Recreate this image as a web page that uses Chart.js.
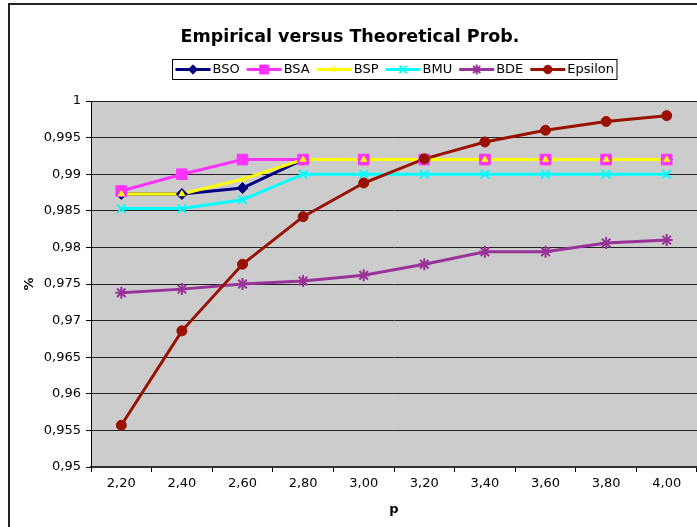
<!DOCTYPE html>
<html>
<head>
<meta charset="utf-8">
<title>Empirical versus Theoretical Prob.</title>
<script src="https://cdn.jsdelivr.net/npm/chart.js@4/dist/chart.umd.min.js"></script>
<style>
  html, body { margin: 0; padding: 0; background: #fff; }
  .chart-wrap { position: relative; width: 697px; height: 527px; }
</style>
</head>
<body>
<div class="chart-wrap"><canvas id="probChart"></canvas></div>
<script>
// -------- Data --------
const categories = ['2,20', '2,40', '2,60', '2,80', '3,00', '3,20', '3,40', '3,60', '3,80', '4,00'];
const bsoValues = [0.9873, 0.9873, 0.9881, 0.992, 0.992, 0.992, 0.992, 0.992, 0.992, 0.992];
const bsaValues = [0.9877, 0.990, 0.992, 0.992, 0.992, 0.992, 0.992, 0.992, 0.992, 0.992];
const bspValues = [0.9873, 0.9873, 0.9893, 0.992, 0.992, 0.992, 0.992, 0.992, 0.992, 0.992];
const bmuValues = [0.9853, 0.9853, 0.9865, 0.990, 0.990, 0.990, 0.990, 0.990, 0.990, 0.990];
const bdeValues = [0.9738, 0.9743, 0.975, 0.9754, 0.9762, 0.9777, 0.9794, 0.9794, 0.9806, 0.981];
const epsilonValues = [0.9557, 0.9686, 0.9777, 0.9842, 0.9888, 0.9921, 0.9944, 0.996, 0.9972, 0.998];
const yTicks = { min: 0.95, max: 1, step: 0.005 };

const chartTitle = 'Empirical versus Theoretical Prob.';
const fontFamily = '"DejaVu Sans", Verdana, sans-serif';

// series look: label, values, colour, marker
const seriesDefs = [
    { label: 'BSO', data: bsoValues, color: '#000080', marker: 'rectRot', radius: 5.5, border: 1 },
    { label: 'BSA', data: bsaValues, color: '#ff33ff', marker: 'rect', radius: 7.5, border: 1 },
    { label: 'BSP', data: bspValues, color: '#ffff00', marker: 'triangle', radius: 3.5, border: 1 },
    { label: 'BMU', data: bmuValues, color: '#00ffff', marker: 'crossRot', radius: 6, border: 2 },
    { label: 'BDE', data: bdeValues, color: '#993399', marker: 'star', radius: 6, border: 2 },
    { label: 'Epsilon', data: epsilonValues, color: '#991100', marker: 'circle', radius: 5, border: 1 }
];

// Excel draws every line first, then every marker on top.
// Chart.js draws lower "order" on top, so lines get high orders.
const n = seriesDefs.length;
const lineSets = seriesDefs.map((s, i) => ({
    label: s.label,
    data: s.data,
    borderColor: s.color,
    borderWidth: 3,
    pointRadius: 0,
    tension: 0,
    order: 2 * n - i
}));
const markerSets = seriesDefs.map((s, i) => ({
    label: s.label,
    data: s.data,
    showLine: false,
    isMarker: true,
    borderColor: s.color,
    backgroundColor: s.color,
    pointBackgroundColor: s.color,
    pointBorderColor: s.color,
    pointStyle: s.marker,
    pointRadius: s.radius,
    pointBorderWidth: s.border,
    order: n - i
}));

// -------- Frame, title and legend (drawn like the Excel chart) --------
const excelFrame = {
    id: 'excelFrame',
    beforeDraw(chart) {
        const { ctx, chartArea } = chart;
        ctx.save();
        ctx.fillStyle = '#ffffff';
        ctx.fillRect(0, 0, chart.width, chart.height);
        // grey plot area
        ctx.fillStyle = '#cccccc';
        ctx.fillRect(chartArea.left, chartArea.top, chartArea.right - chartArea.left, chartArea.bottom - chartArea.top);
        // outer chart border
        ctx.strokeStyle = '#222';
        ctx.lineWidth = 2;
        ctx.beginPath();
        ctx.moveTo(9, chart.height);
        ctx.lineTo(9, 4);
        ctx.lineTo(chart.width, 4);
        ctx.stroke();
        ctx.restore();
    },
    afterDraw(chart) {
        const { ctx, chartArea } = chart;
        ctx.save();

        // title
        ctx.fillStyle = '#000';
        ctx.font = 'bold 17.5px ' + fontFamily;
        ctx.textAlign = 'center';
        ctx.textBaseline = 'alphabetic';
        ctx.fillText(chartTitle, 350, 42);

        // legend
        ctx.font = '13px ' + fontFamily;
        const lineLen = 35, textGap = 2, itemGap = 7, pad = 3;
        const items = chart.data.datasets.filter(ds => ds.isMarker)
            .map(ds => ({ ds: ds, w: ctx.measureText(ds.label).width }));
        let total = pad * 2;
        items.forEach((it, i) => { total += lineLen + textGap + it.w + (i ? itemGap : 0); });
        const boxLeft = Math.round((chartArea.left + chartArea.right) / 2 - total / 2) + 0.5;
        const boxTop = 59.5, boxH = 20;
        ctx.fillStyle = '#fff';
        ctx.fillRect(boxLeft, boxTop, total, boxH);
        ctx.strokeStyle = '#000';
        ctx.lineWidth = 1;
        ctx.strokeRect(boxLeft, boxTop, total, boxH);

        const midY = boxTop + boxH / 2;
        let x = boxLeft + pad;
        items.forEach((it, i) => {
            if (i) x += itemGap;
            const ds = it.ds;
            ctx.strokeStyle = ds.borderColor;
            ctx.lineWidth = 3;
            ctx.beginPath();
            ctx.moveTo(x, midY);
            ctx.lineTo(x + lineLen, midY);
            ctx.stroke();
            ctx.fillStyle = ds.pointBackgroundColor;
            ctx.strokeStyle = ds.pointBorderColor;
            ctx.lineWidth = ds.pointBorderWidth;
            Chart.helpers.drawPoint(ctx, {
                pointStyle: ds.pointStyle,
                radius: ds.pointRadius * 0.85,
                rotation: 0,
                borderWidth: ds.pointBorderWidth
            }, x + lineLen / 2, midY);
            x += lineLen + textGap;
            ctx.fillStyle = '#000';
            ctx.textAlign = 'left';
            ctx.textBaseline = 'middle';
            ctx.fillText(ds.label, x, midY + 0.5);
            x += it.w;
        });
        ctx.restore();
    }
};

// -------- Chart --------
const probCanvas = document.getElementById('probChart');
const probChart = new Chart(probCanvas, {
    type: 'line',
    data: {
        labels: categories,
        datasets: lineSets.concat(markerSets)
    },
    options: {
        responsive: true,
        maintainAspectRatio: false,
        animation: false,
        devicePixelRatio: 1,
        // no extra room for marker overflow: plot area runs to the right edge
        layout: { autoPadding: false, padding: { top: 101, left: 8, right: 0, bottom: 0 } },
        plugins: {
            legend: { display: false },
            title: { display: false },
            tooltip: { enabled: false }
        },
        scales: {
            x: {
                offset: true,
                afterFit(scale) {
                    scale.height = 60;
                    scale.paddingLeft = 0;
                    scale.paddingRight = 0;
                },
                grid: {
                    offset: true,
                    drawOnChartArea: false,
                    drawTicks: true,
                    tickLength: 5,
                    tickColor: '#000'
                },
                border: { color: '#333', width: 2 },
                ticks: {
                    color: '#000',
                    padding: 4,
                    maxRotation: 0,
                    autoSkip: false,
                    font: { family: fontFamily, size: 13 }
                },
                title: {
                    display: true,
                    text: 'p',
                    color: '#000',
                    padding: { top: 0, bottom: 10 },
                    font: { family: fontFamily, size: 13, weight: 'bold' }
                }
            },
            y: {
                min: yTicks.min,
                max: yTicks.max,
                afterFit(scale) { scale.width = 83; },
                grid: {
                    color: '#222',
                    lineWidth: 1,
                    drawTicks: true,
                    tickLength: 5,
                    tickColor: '#000'
                },
                border: { color: '#000', width: 1 },
                ticks: {
                    stepSize: yTicks.step,
                    color: '#000',
                    padding: 5,
                    font: { family: fontFamily, size: 13 },
                    callback: value => String(Number(value.toFixed(3))).replace('.', ',')
                },
                title: {
                    display: true,
                    text: '%',
                    color: '#000',
                    padding: { top: 14, bottom: 0 },
                    font: { family: fontFamily, size: 13, weight: 'bold' }
                }
            }
        }
    },
    plugins: [excelFrame]
});
</script>
</body>
</html>
